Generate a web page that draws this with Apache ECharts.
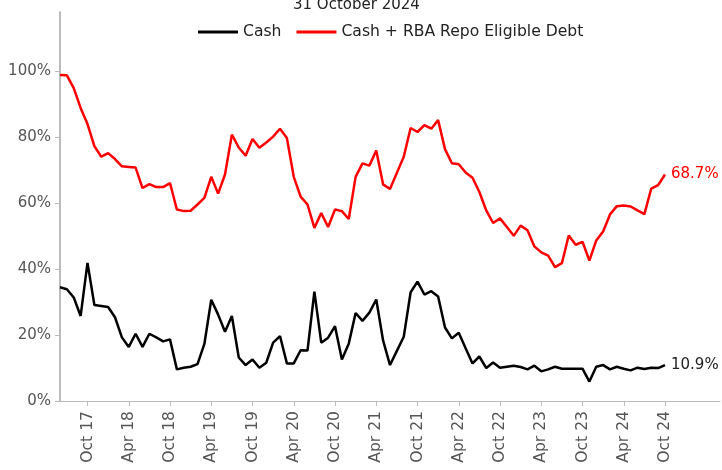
<!DOCTYPE html>
<html>
<head>
<meta charset="utf-8">
<script src="https://cdn.jsdelivr.net/npm/echarts@6/dist/echarts.min.js"></script>
<style>html,body{margin:0;padding:0;background:#fff}#c{width:722px;height:470px}</style>
</head>
<body>
<div id="c"></div>
<script>
// Monthly observations, Jun 2017 .. Oct 2024 (percent)
const cash = [34.5,33.9,31.4,25.8,41.9,29.1,28.8,28.5,25.4,19.3,16.4,20.4,16.4,20.4,19.3,18.1,18.7,9.6,10.1,10.4,11.2,17.3,30.7,26.2,21.0,25.8,13.2,10.9,12.6,10.1,11.6,17.7,19.7,11.4,11.4,15.4,15.3,33.2,17.7,19.2,22.7,12.6,17.4,26.7,24.3,26.8,30.8,18.3,10.9,15.2,19.5,33.0,36.2,32.3,33.3,31.7,22.3,19.0,20.7,16.0,11.4,13.5,10.0,11.7,10.1,10.4,10.7,10.3,9.6,10.7,9.0,9.6,10.4,9.8,9.8,9.8,9.8,5.9,10.4,10.9,9.6,10.4,9.8,9.3,10.1,9.7,10.1,10.0,10.9];
const cashRepo = [98.9,98.8,94.9,88.9,84.0,77.3,74.1,75.2,73.4,71.2,71.0,70.8,64.6,65.8,64.9,64.9,66.1,58.1,57.6,57.7,59.6,61.6,68.0,62.9,68.7,80.8,76.9,74.4,79.5,76.8,78.4,80.2,82.6,79.8,68.0,62.0,59.6,52.5,57.0,52.8,58.1,57.6,55.2,68.0,72.1,71.4,76.0,65.7,64.3,69.2,74.1,82.8,81.6,83.7,82.6,85.2,76.4,72.1,71.8,69.3,67.7,63.4,57.8,54.0,55.4,52.8,50.1,53.2,51.8,46.9,45.1,44.1,40.6,41.8,50.2,47.4,48.3,42.6,48.7,51.4,56.6,59.1,59.3,59.0,57.8,56.7,64.4,65.5,68.7];
const seriesNames = ['Cash', 'Cash + RBA Repo Eligible Debt'];
const titleText = '31 October 2024';
const yTicks = [0, 20, 40, 60, 80, 100];
const monthNames = ['Jan','Feb','Mar','Apr','May','Jun','Jul','Aug','Sep','Oct','Nov','Dec'];
// Axis categories: Jun 2017 .. Jun 2025
const categories = [];
for (let i = 0; i <= 96; i++) {
  const m = (5 + i) % 12;
  const y = 17 + Math.floor((5 + i) / 12);
  categories.push(monthNames[m] + ' ' + y);
}
const showTick = (idx) => idx % 6 === 4 && idx < cash.length;

const FONT = 'DejaVu Sans';
const chart = echarts.init(document.getElementById('c'), null, {renderer: 'canvas'});
chart.setOption({
  animation: false,
  backgroundColor: '#fff',
  textStyle: {fontFamily: FONT},
  title: {
    text: titleText, left: 293, top: -2, padding: 0,
    textStyle: {fontFamily: FONT, fontSize: 15, fontWeight: 'normal', color: '#222'}
  },
  legend: {
    data: seriesNames, left: 198, top: 24, padding: 0, itemGap: 15,
    itemWidth: 40, itemHeight: 3, icon: 'rect',
    textStyle: {fontFamily: FONT, fontSize: 15.6, color: '#222'}
  },
  grid: {left: 60, right: 2, top: 12, bottom: 69, containLabel: false},
  xAxis: {
    type: 'category', data: categories, boundaryGap: false,
    axisLine: {lineStyle: {color: '#bbbbbb', width: 1}},
    axisTick: {show: true, interval: (i) => showTick(i), length: 5, lineStyle: {color: '#bbbbbb'}},
    axisLabel: {interval: (i) => showTick(i), rotate: 90, margin: 10, fontFamily: FONT, fontSize: 15.6, color: '#555'},
    splitLine: {show: false}
  },
  yAxis: {
    type: 'value', min: 0, max: 118,
    axisLine: {show: true, lineStyle: {color: '#bbbbbb', width: 2}},
    axisTick: {show: true, customValues: yTicks, length: 5, lineStyle: {color: '#bbbbbb'}},
    axisLabel: {customValues: yTicks, formatter: '{value}%', margin: 9, fontFamily: FONT, fontSize: 15, color: '#555'},
    splitLine: {show: false}
  },
  series: [
    {
      name: seriesNames[0], type: 'line', data: cash, showSymbol: false, symbol: 'none',
      lineStyle: {color: '#000', width: 2.5}, itemStyle: {color: '#000'},
      endLabel: {show: true, formatter: (p) => p.value.toFixed(1) + '%', color: '#222', fontFamily: FONT, fontSize: 15, distance: 6}
    },
    {
      name: seriesNames[1], type: 'line', data: cashRepo, showSymbol: false, symbol: 'none',
      lineStyle: {color: '#ff0000', width: 2.5}, itemStyle: {color: '#ff0000'},
      endLabel: {show: true, formatter: (p) => p.value.toFixed(1) + '%', color: '#ff0000', fontFamily: FONT, fontSize: 15, distance: 6}
    }
  ]
});
</script>
</body>
</html>
